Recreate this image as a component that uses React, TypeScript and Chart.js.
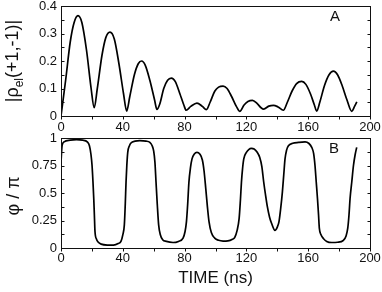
import React, { useEffect, useRef } from 'react';
import { Chart, registerables } from 'chart.js';

Chart.register(...registerables);

// ---- data ----
const rhoTime = [
  0, 3, 6, 8.5, 11, 13.5, 16.5, 19.5, 21.5, 23.5, 26.5, 29, 31.7, 34.5, 37.5, 40.5, 42.5, 44.5, 47.5, 50,
  52.2, 54.5, 57.5, 60.5, 62.1, 64, 66.5, 69, 71.4, 74, 77, 79.5, 81, 84, 88, 91.5, 94.1, 96.5, 99.5, 102,
  104.9, 107.5, 110.5, 113.5, 115.7, 118.5, 121, 123.9, 127, 129.5, 131.2, 134.5, 137.5, 140.5, 143.9, 146.5, 149.5, 152.5, 155.8, 158.5,
  161.5, 164, 165.5, 167.5, 170.5, 173.5, 176.3, 179, 182, 185, 188.2, 190, 191.5,
];
const rhoValue = [
  0, 0.13, 0.27, 0.34, 0.365, 0.34, 0.24, 0.1, 0.03, 0.1, 0.22, 0.285, 0.305, 0.28, 0.19, 0.08, 0.018, 0.07, 0.15, 0.19,
  0.2, 0.185, 0.13, 0.06, 0.024, 0.045, 0.1, 0.13, 0.138, 0.125, 0.08, 0.04, 0.021, 0.035, 0.047, 0.035, 0.023, 0.05, 0.09, 0.105,
  0.109, 0.1, 0.07, 0.035, 0.017, 0.04, 0.053, 0.057, 0.045, 0.03, 0.025, 0.036, 0.039, 0.033, 0.021, 0.05, 0.09, 0.118, 0.126, 0.115,
  0.08, 0.04, 0.018, 0.05, 0.11, 0.15, 0.163, 0.15, 0.11, 0.06, 0.017, 0.035, 0.051,
];

const phiTime = [
  0, 0.7, 2, 6, 10, 14, 17, 18.4, 19.4, 20.1, 20.7, 21.2, 21.6, 22, 23, 24, 26, 30, 34, 37,
  38.8, 40, 41, 41.6, 42.1, 42.6, 43.2, 44.3, 45.3, 48, 51, 55, 57.5, 59, 60, 60.8, 61.5, 62.3, 63.2, 64.3,
  65.8, 68.2, 72.5, 76, 79, 80.3, 81.2, 82, 82.8, 83.8, 84.8, 86.3, 88, 89.8, 91.5, 92.6, 93.7, 94.8, 95.8, 97.3,
  99.5, 102, 104.9, 108, 111, 112.4, 114, 115.3, 116.1, 116.8, 117.5, 118.3, 120, 121.5, 123.2, 125, 127, 128.6, 130, 131.2,
  132.4, 133.5, 135, 136.4, 138.5, 140, 141.1, 142.2, 143.3, 144.2, 145, 146, 147.2, 150, 153.7, 158, 160.5, 162.3, 163.5, 164.4,
  165.2, 166, 166.7, 167.2, 168.3, 169.8, 172, 175.2, 179, 182.8, 184.5, 185.6, 186.4, 187.1, 188.2, 189.3, 190.4, 191.4,
];
const phiValue = [
  0.78, 0.93, 0.965, 0.98, 0.985, 0.98, 0.965, 0.93, 0.85, 0.75, 0.6, 0.45, 0.3, 0.15, 0.08, 0.055, 0.035, 0.027, 0.027, 0.04,
  0.06, 0.12, 0.21, 0.4, 0.6, 0.75, 0.87, 0.93, 0.955, 0.972, 0.977, 0.972, 0.96, 0.93, 0.88, 0.78, 0.6, 0.4, 0.21, 0.12,
  0.075, 0.06, 0.05, 0.06, 0.09, 0.15, 0.24, 0.4, 0.6, 0.73, 0.81, 0.855, 0.87, 0.855, 0.8, 0.7, 0.54, 0.37, 0.24, 0.14,
  0.09, 0.07, 0.063, 0.065, 0.08, 0.095, 0.16, 0.27, 0.43, 0.6, 0.72, 0.81, 0.87, 0.895, 0.905, 0.9, 0.87, 0.825, 0.74, 0.6,
  0.48, 0.38, 0.28, 0.22, 0.16, 0.19, 0.24, 0.36, 0.51, 0.67, 0.81, 0.89, 0.93, 0.952, 0.96, 0.965, 0.95, 0.915, 0.86, 0.75,
  0.6, 0.45, 0.3, 0.18, 0.12, 0.087, 0.06, 0.05, 0.052, 0.07, 0.11, 0.18, 0.3, 0.45, 0.6, 0.75, 0.85, 0.915,
];

const xTickLabels = [0, 40, 80, 120, 160, 200];
const xMinorTicks = [0, 20, 40, 60, 80, 100, 120, 140, 160, 180, 200];
const topYTickLabels = [0, 0.1, 0.2, 0.3, 0.4];
const topYMinorTicks = [0, 0.05, 0.1, 0.15, 0.2, 0.25, 0.3, 0.35, 0.4];
const botYTickLabels = [0, 0.25, 0.5, 0.75, 1];
const botYMinorTicks = [0, 0.125, 0.25, 0.375, 0.5, 0.625, 0.75, 0.875, 1];

const FONT = '"Liberation Sans", Arial, Helvetica, sans-serif';
const INK = '#111';

function makeFramePlugin(yMinor: number[], drawText: (ctx: CanvasRenderingContext2D) => void) {
  return {
    id: 'frameTicks',
    afterDraw(chart: any) {
      const { ctx, chartArea: a, scales } = chart;
      const xs = scales.x;
      const ys = scales.y;
      ctx.save();
      ctx.strokeStyle = INK;
      ctx.lineWidth = 1;
      const L = Math.round(a.left) + 0.5;
      const R = Math.round(a.right) + 0.5;
      const T = Math.round(a.top) + 0.5;
      const B = Math.round(a.bottom) + 0.5;
      ctx.strokeRect(L, T, R - L, B - T);
      ctx.beginPath();
      for (const t of xMinorTicks) {
        const px = Math.round(xs.getPixelForValue(t)) + 0.5;
        ctx.moveTo(px, B);
        ctx.lineTo(px, B + 3);
      }
      for (const v of yMinor) {
        const py = Math.round(ys.getPixelForValue(v)) + 0.5;
        ctx.moveTo(L, py);
        ctx.lineTo(L + 3, py);
        ctx.moveTo(R, py);
        ctx.lineTo(R - 3, py);
      }
      ctx.stroke();
      ctx.fillStyle = INK;
      drawText(ctx);
      ctx.restore();
    },
  };
}

function makeConfig(
  times: number[],
  values: number[],
  yMax: number,
  yLabels: number[],
  yMinor: number[],
  xAxisHeight: number,
  xLabelPad: number,
  drawText: (ctx: CanvasRenderingContext2D) => void,
): any {
  return {
    type: 'line',
    data: {
      datasets: [
        {
          data: times.map((t, i) => ({ x: t, y: values[i] })),
          borderColor: '#000',
          borderWidth: 1.7,
          pointRadius: 0,
          cubicInterpolationMode: 'monotone',
          fill: false,
        },
      ],
    },
    options: {
      animation: false,
      responsive: false,
      devicePixelRatio: 1,
      layout: { padding: { top: 6, right: 12, left: 0, bottom: 0 } },
      plugins: { legend: { display: false }, tooltip: { enabled: false } },
      scales: {
        x: {
          type: 'linear',
          min: 0,
          max: 200,
          grid: { display: false, drawTicks: false, tickLength: 0 },
          border: { display: false },
          ticks: {
            font: { family: FONT, size: 13 },
            color: INK,
            padding: xLabelPad,
            maxRotation: 0,
            autoSkip: false,
            callback: (v: number) => String(v),
          },
          afterBuildTicks: (s: any) => {
            s.ticks = xTickLabels.map((v) => ({ value: v }));
          },
          afterFit: (s: any) => {
            s.height = xAxisHeight;
            s.paddingLeft = 0;
            s.paddingRight = 0;
          },
        },
        y: {
          type: 'linear',
          min: 0,
          max: yMax,
          grid: { display: false, drawTicks: false, tickLength: 0 },
          border: { display: false },
          ticks: {
            font: { family: FONT, size: 13 },
            color: INK,
            padding: 4,
            autoSkip: false,
            callback: (v: number) => String(v),
          },
          afterBuildTicks: (s: any) => {
            s.ticks = yLabels.map((v) => ({ value: v }));
          },
          afterFit: (s: any) => {
            s.width = 61;
            s.paddingTop = 0;
            s.paddingBottom = 0;
          },
        },
      },
    },
    plugins: [makeFramePlugin(yMinor, drawText)],
  };
}

function drawTopText(ctx: CanvasRenderingContext2D) {
  // y title |ρ_el(+1,-1)|
  ctx.save();
  ctx.translate(18, 61);
  ctx.rotate(-Math.PI / 2);
  ctx.textBaseline = 'alphabetic';
  ctx.textAlign = 'left';
  const big = `18px ${FONT}`;
  const small = `12px ${FONT}`;
  const p1 = '|ρ';
  const sub = 'el';
  const p2 = '(+1,-1)|';
  ctx.font = big;
  const w1 = ctx.measureText(p1).width;
  const w2 = ctx.measureText(p2).width;
  ctx.font = small;
  const ws = ctx.measureText(sub).width;
  const x0 = -(w1 + ws + w2) / 2;
  ctx.font = big;
  ctx.fillText(p1, x0, 0);
  ctx.font = small;
  ctx.fillText(sub, x0 + w1, 5);
  ctx.font = big;
  ctx.fillText(p2, x0 + w1 + ws, 0);
  ctx.restore();
  // panel letter
  ctx.font = `15px ${FONT}`;
  ctx.textAlign = 'center';
  ctx.textBaseline = 'middle';
  ctx.fillText('A', 335, 17);
}

function drawBottomText(ctx: CanvasRenderingContext2D) {
  ctx.save();
  ctx.translate(14, 64);
  ctx.rotate(-Math.PI / 2);
  ctx.font = `18px ${FONT}`;
  ctx.textAlign = 'center';
  ctx.textBaseline = 'middle';
  ctx.fillText('φ / π', 0, 0);
  ctx.restore();
  ctx.font = `17px ${FONT}`;
  ctx.textAlign = 'center';
  ctx.textBaseline = 'middle';
  ctx.fillText('TIME (ns)', 215.5, 146);
  ctx.font = `15px ${FONT}`;
  ctx.fillText('B', 334, 17);
}

export default function App() {
  const topRef = useRef<HTMLCanvasElement>(null);
  const botRef = useRef<HTMLCanvasElement>(null);

  useEffect(() => {
    const c1 = new Chart(
      topRef.current as HTMLCanvasElement,
      makeConfig(rhoTime, rhoValue, 0.4, topYTickLabels, topYMinorTicks, 16, 4, drawTopText),
    );
    const c2 = new Chart(
      botRef.current as HTMLCanvasElement,
      makeConfig(phiTime, phiValue, 1, botYTickLabels, botYMinorTicks, 44, 3, drawBottomText),
    );
    return () => {
      c1.destroy();
      c2.destroy();
    };
  }, []);

  return (
    <div style={{ position: 'absolute', left: 0, top: 0, width: 382, height: 292, background: '#fff' }}>
      <canvas ref={topRef} width={382} height={132} style={{ position: 'absolute', left: 0, top: 0 }} />
      <canvas ref={botRef} width={382} height={160} style={{ position: 'absolute', left: 0, top: 132 }} />
    </div>
  );
}
